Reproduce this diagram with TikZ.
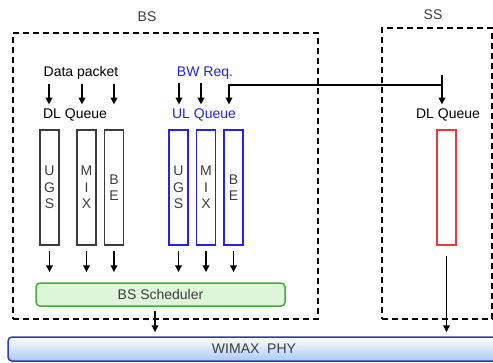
\documentclass[tikz,border=0pt]{standalone}
\usepackage{fontspec}
\setmainfont{Liberation Sans}
\usetikzlibrary{positioning,arrows.meta}

\definecolor{ulblue}{RGB}{35,35,225}
\definecolor{qgray}{RGB}{60,60,60}
\definecolor{ssred}{RGB}{232,60,60}
\definecolor{schedgreen}{RGB}{70,170,60}
\definecolor{schedfill}{RGB}{224,246,218}
\definecolor{phyblue}{RGB}{50,60,170}
\definecolor{phyfill}{RGB}{170,200,245}

\begin{document}
\begin{tikzpicture}[x=1pt, y=-1pt,
    every node/.style={font=\fontsize{14}{17}\selectfont, inner sep=1pt},
    dashbox/.style={draw, dashed, dash pattern=on 6pt off 4pt, line width=1.5pt},
    queue/.style={draw=qgray, line width=1.6pt, minimum width=19pt, minimum height=115pt, inner sep=0pt, align=center, text=qgray, font=\fontsize{14}{16.5}\selectfont},
    arrow/.style={-{Triangle[length=7pt, width=6.5pt]}, line width=1.8pt},
]
\useasboundingbox (0,0) rectangle (493,362);

% station boxes
\node[dashbox, minimum width=305pt, minimum height=286pt] (bsbox) at (165.5,176) {};
\node[dashbox, minimum width=110pt, minimum height=291pt] (ssbox) at (437,173.5) {};
\node[text=qgray] (bstitle) at (147,17) {BS};
\node[text=qgray] (sstitle) at (433,15) {SS};

% DL side of BS
\node (datapk) at (81,73) {Data packet};
\node (dlq) at (75,115) {DL Queue};
\node[queue] (ugsdl) at (49.5,187.5) {U\\G\\S};
\node[queue] (mixdl) at (86.5,187.5) {M\\I\\X};
\node[queue] (bedl) at (114,187.5) {B\\E};

% UL side of BS
\node[text=ulblue] (bwreq) at (205,73) {BW Req.};
\node[text=ulblue] (ulq) at (204,115) {UL Queue};
\node[queue, draw=ulblue] (ugsul) at (178.5,187.5) {U\\G\\S};
\node[queue, draw=ulblue] (mixul) at (206,187.5) {M\\I\\X};
\node[queue, draw=ulblue] (beul) at (233.5,187.5) {B\\E};

% SS queue
\node (ssdlq) at (448,115) {DL Queue};
\node[queue, draw=ssred] (ssq) at (446.5,187.5) {};

% scheduler and PHY
\node[draw=schedgreen, fill=schedfill, line width=1.5pt, rounded corners=4pt, minimum width=249pt, minimum height=23pt, text=qgray] (sched) at (160.5,294.5) {BS Scheduler};
\node[draw=phyblue, top color=white, bottom color=phyfill, line width=1.5pt, rounded corners=4pt, minimum width=492pt, minimum height=24pt, text=qgray] (phy) at (254,349) {WIMAX\ \ PHY};

% packets into the queues
\foreach \x in {49,82,114}
  \draw[arrow, shorten <=3pt, shorten >=3pt] (datapk.south -| \x,0) -- (dlq.north -| \x,0);
\foreach \x in {179,201}
  \draw[arrow, shorten <=3pt, shorten >=3pt] (bwreq.south -| \x,0) -- (ulq.north -| \x,0);

% bandwidth request from SS
\coordinate (bwsrc) at (442,75);
\coordinate (bwjoin) at (442,85);
\coordinate (ulin) at (229,85);
\draw[arrow, shorten >=3pt] (bwsrc) -- (ssdlq.north -| bwsrc);
\draw[arrow, shorten >=3pt] (bwjoin) -- (ulin) -- (ulq.north -| ulin);

% queues to scheduler
\foreach \q in {ugsdl,mixdl,bedl,ugsul,mixul,beul}
  \draw[arrow, shorten <=5pt, shorten >=10pt] (\q.south) -- (sched.north -| \q.south);

% to PHY
\draw[arrow, shorten <=4pt, shorten >=4pt] (sched.south -| 155,0) -- (phy.north -| 155,0);
\draw[arrow, shorten <=10pt, shorten >=4pt] (ssq.south) -- (phy.north -| ssq.south);

\end{tikzpicture}
\end{document}
